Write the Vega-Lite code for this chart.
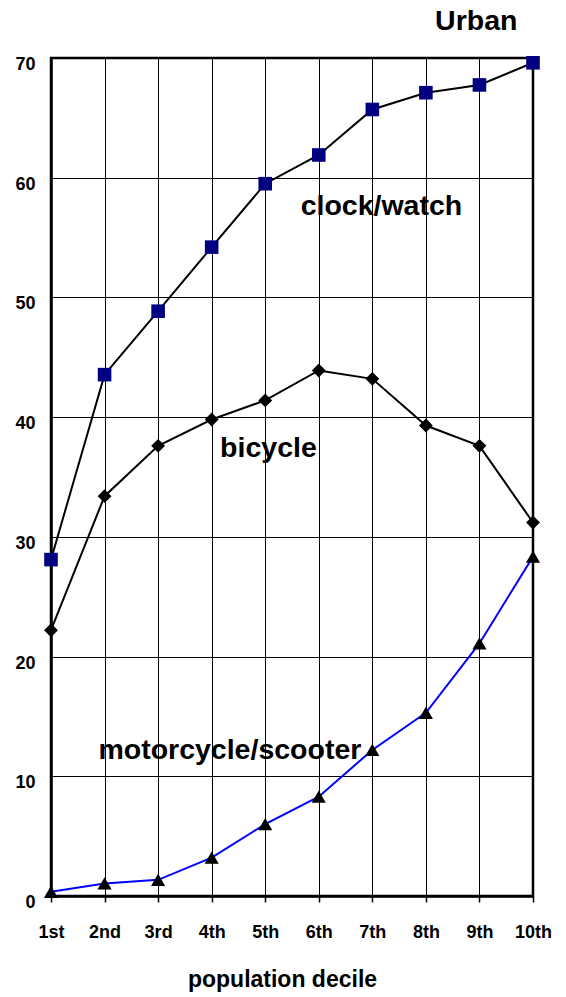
{
  "$schema": "https://vega.github.io/schema/vega-lite/v6.json",
  "width": 482,
  "height": 838,
  "autosize": {"type": "none"},
  "padding": {"left": 51, "top": 58, "right": 33, "bottom": 101},
  "background": "white",
  "config": {
    "view": {"stroke": "black", "strokeWidth": 2.5},
    "font": "Liberation Sans",
    "axis": {
      "gridColor": "black",
      "gridOpacity": 1,
      "gridWidth": 1,
      "domainColor": "black",
      "domainWidth": 2.5,
      "labelColor": "black",
      "labelFont": "Liberation Sans",
      "labelFontWeight": "bold",
      "labelFontSize": 18,
      "titleColor": "black",
      "titleFont": "Liberation Sans",
      "titleFontWeight": "bold"
    }
  },
  "datasets": {
    "series": [
      {"item": "clock/watch", "decile": 1, "pct": 28.1},
      {"item": "clock/watch", "decile": 2, "pct": 43.55},
      {"item": "clock/watch", "decile": 3, "pct": 48.85},
      {"item": "clock/watch", "decile": 4, "pct": 54.2},
      {"item": "clock/watch", "decile": 5, "pct": 59.5},
      {"item": "clock/watch", "decile": 6, "pct": 61.9},
      {"item": "clock/watch", "decile": 7, "pct": 65.7},
      {"item": "clock/watch", "decile": 8, "pct": 67.1},
      {"item": "clock/watch", "decile": 9, "pct": 67.75},
      {"item": "clock/watch", "decile": 10, "pct": 69.6},
      {"item": "bicycle", "decile": 1, "pct": 22.2},
      {"item": "bicycle", "decile": 2, "pct": 33.4},
      {"item": "bicycle", "decile": 3, "pct": 37.6},
      {"item": "bicycle", "decile": 4, "pct": 39.8},
      {"item": "bicycle", "decile": 5, "pct": 41.4},
      {"item": "bicycle", "decile": 6, "pct": 43.9},
      {"item": "bicycle", "decile": 7, "pct": 43.2},
      {"item": "bicycle", "decile": 8, "pct": 39.3},
      {"item": "bicycle", "decile": 9, "pct": 37.6},
      {"item": "bicycle", "decile": 10, "pct": 31.2},
      {"item": "motorcycle/scooter", "decile": 1, "pct": 0.35},
      {"item": "motorcycle/scooter", "decile": 2, "pct": 1.05},
      {"item": "motorcycle/scooter", "decile": 3, "pct": 1.35},
      {"item": "motorcycle/scooter", "decile": 4, "pct": 3.2},
      {"item": "motorcycle/scooter", "decile": 5, "pct": 6.0},
      {"item": "motorcycle/scooter", "decile": 6, "pct": 8.3},
      {"item": "motorcycle/scooter", "decile": 7, "pct": 12.2},
      {"item": "motorcycle/scooter", "decile": 8, "pct": 15.3},
      {"item": "motorcycle/scooter", "decile": 9, "pct": 21.1},
      {"item": "motorcycle/scooter", "decile": 10, "pct": 28.35}
    ],
    "labels": [
      {"text": "clock/watch", "decile": 7.17, "pct": 56.9},
      {"text": "bicycle", "decile": 5.06, "pct": 36.65},
      {"text": "motorcycle/scooter", "decile": 4.34, "pct": 11.45},
      {"text": "Urban", "decile": 8.94, "pct": 72.35}
    ]
  },
  "encoding": {
    "x": {
      "field": "decile",
      "type": "quantitative",
      "scale": {"domain": [1, 10], "nice": false, "zero": false},
      "axis": {
        "values": [1, 2, 3, 4, 5, 6, 7, 8, 9, 10],
        "labelExpr": "datum.value == 1 ? '1st' : datum.value == 2 ? '2nd' : datum.value == 3 ? '3rd' : datum.value + 'th'",
        "grid": true,
        "ticks": true,
        "tickColor": "black",
        "tickSize": 6,
        "tickWidth": 1.5,
        "labelPadding": 21,
        "labelFlush": false,
        "labelOverlap": false,
        "title": "population decile",
        "titleFontSize": 23,
        "titlePadding": 27,
        "titleX": 231,
        "titleAlign": "center"
      }
    },
    "y": {
      "field": "pct",
      "type": "quantitative",
      "scale": {"domain": [0, 70], "nice": false},
      "axis": {
        "values": [0, 10, 20, 30, 40, 50, 60, 70],
        "grid": true,
        "ticks": false,
        "labelPadding": 16,
        "labelOffset": 6.5,
        "labelFlush": false,
        "labelOverlap": false,
        "title": null
      }
    }
  },
  "layer": [
    {
      "data": {"name": "series"},
      "mark": {"type": "line", "strokeWidth": 2},
      "encoding": {
        "detail": {"field": "item"},
        "stroke": {
          "field": "item",
          "type": "nominal",
          "scale": {"domain": ["clock/watch", "bicycle", "motorcycle/scooter"], "range": ["#000000", "#000000", "#0000FF"]},
          "legend": null
        }
      }
    },
    {
      "data": {"name": "series"},
      "mark": {"type": "point", "filled": true, "opacity": 1, "strokeWidth": 0},
      "encoding": {
        "shape": {
          "field": "item",
          "type": "nominal",
          "scale": {"domain": ["clock/watch", "bicycle", "motorcycle/scooter"], "range": ["square", "diamond", "triangle-up"]},
          "legend": null
        },
        "fill": {
          "field": "item",
          "type": "nominal",
          "scale": {"domain": ["clock/watch", "bicycle", "motorcycle/scooter"], "range": ["#000080", "#000000", "#000000"]},
          "legend": null
        },
        "size": {
          "field": "item",
          "type": "nominal",
          "scale": {"domain": ["clock/watch", "bicycle", "motorcycle/scooter"], "range": [185, 200, 230]},
          "legend": null
        }
      }
    },
    {
      "data": {"name": "labels"},
      "mark": {"type": "text", "align": "center", "baseline": "alphabetic", "fontWeight": "bold", "font": "Liberation Sans", "color": "black", "fontSize": 28.5},
      "encoding": {
        "text": {"field": "text"}
      }
    }
  ]
}
